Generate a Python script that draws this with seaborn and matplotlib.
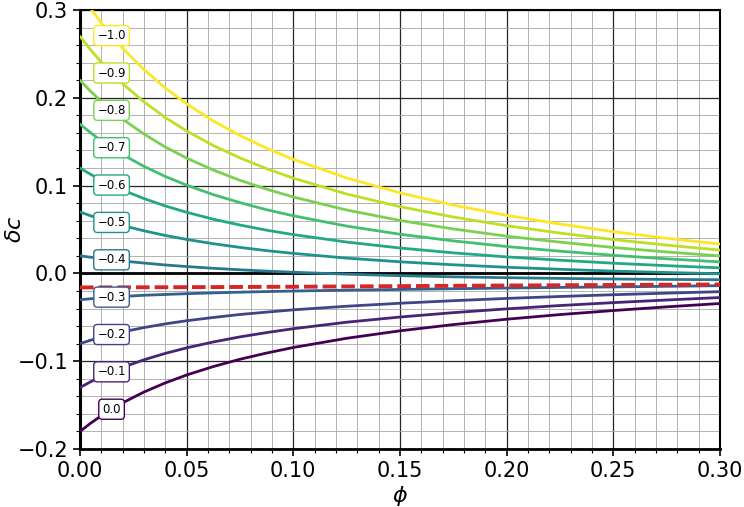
import numpy as np
import matplotlib
matplotlib.use("Agg")
import matplotlib.pyplot as plt
from matplotlib.ticker import MultipleLocator
import seaborn as sns

# values
phi = [0.0, 0.005, 0.01, 0.015, 0.02, 0.03, 0.04, 0.05, 0.0625, 0.075,
       0.0875, 0.1, 0.125, 0.15, 0.175, 0.2, 0.225, 0.25, 0.275, 0.3]

curve_labels = [0.0, -0.1, -0.2, -0.3, -0.4, -0.5, -0.6, -0.7, -0.8, -0.9, -1.0]

dc_00 = [-0.1800, -0.1706, -0.1621, -0.1544, -0.1474, -0.1351, -0.1247, -0.1157, -0.1061, -0.0978,
         -0.0907, -0.0844, -0.0739, -0.0654, -0.0583, -0.0522, -0.0469, -0.0423, -0.0381, -0.0343]
dc_01 = [-0.1300, -0.1234, -0.1174, -0.1119, -0.1070, -0.0984, -0.0911, -0.0848, -0.0781, -0.0723,
         -0.0674, -0.0630, -0.0556, -0.0497, -0.0447, -0.0404, -0.0366, -0.0333, -0.0303, -0.0275]
dc_02 = [-0.0800, -0.0761, -0.0726, -0.0695, -0.0666, -0.0617, -0.0575, -0.0539, -0.0502, -0.0468,
         -0.0441, -0.0415, -0.0374, -0.0340, -0.0311, -0.0285, -0.0263, -0.0243, -0.0225, -0.0208]
dc_03 = [-0.0300, -0.0289, -0.0279, -0.0270, -0.0263, -0.0249, -0.0240, -0.0231, -0.0222, -0.0214,
         -0.0207, -0.0201, -0.0191, -0.0183, -0.0175, -0.0167, -0.0160, -0.0154, -0.0147, -0.0140]
dc_04 = [0.0200, 0.0184, 0.0169, 0.0154, 0.0141, 0.0118, 0.0096, 0.0078, 0.0058, 0.0041,
         0.0026, 0.0013, -0.0009, -0.0026, -0.0039, -0.0049, -0.0057, -0.0064, -0.0069, -0.0072]
dc_05 = [0.0700, 0.0656, 0.0616, 0.0579, 0.0545, 0.0485, 0.0432, 0.0387, 0.0338, 0.0296,
         0.0259, 0.0228, 0.0174, 0.0132, 0.0098, 0.0070, 0.0047, 0.0026, 0.0010, -0.0004]
dc_06 = [0.1200, 0.1128, 0.1063, 0.1004, 0.0949, 0.0852, 0.0768, 0.0696, 0.0617, 0.0551,
         0.0492, 0.0442, 0.0357, 0.0289, 0.0234, 0.0188, 0.0150, 0.0116, 0.0088, 0.0063]
dc_07 = [0.1700, 0.1601, 0.1511, 0.1428, 0.1353, 0.1219, 0.1104, 0.1005, 0.0897, 0.0806,
         0.0725, 0.0656, 0.0539, 0.0446, 0.0370, 0.0306, 0.0253, 0.0206, 0.0166, 0.0131]
dc_08 = [0.2200, 0.2073, 0.1958, 0.1853, 0.1756, 0.1587, 0.1439, 0.1313, 0.1177, 0.1060,
         0.0959, 0.0870, 0.0722, 0.0603, 0.0506, 0.0424, 0.0356, 0.0295, 0.0244, 0.0199]
dc_09 = [0.2700, 0.2546, 0.2406, 0.2277, 0.2160, 0.1954, 0.1775, 0.1622, 0.1456, 0.1315,
         0.1192, 0.1085, 0.0904, 0.0760, 0.0642, 0.0543, 0.0459, 0.0385, 0.0322, 0.0266]
dc_10 = [0.3200, 0.3018, 0.2853, 0.2702, 0.2564, 0.2321, 0.2111, 0.1931, 0.1736, 0.1570,
         0.1425, 0.1299, 0.1087, 0.0917, 0.0778, 0.0661, 0.0562, 0.0475, 0.0400, 0.0334]

curves = [dc_00, dc_01, dc_02, dc_03, dc_04, dc_05, dc_06, dc_07, dc_08, dc_09, dc_10]

# red dashed reference line
ref_phi = [0.0, 0.05, 0.1, 0.15, 0.2, 0.25, 0.3]
ref_dc = [-0.0160, -0.0157, -0.0152, -0.0145, -0.0138, -0.0132, -0.0126]

label_phi = 0.0148

sns.set_style("white")
plt.rcParams['font.family'] = ['DejaVu Sans']
plt.rcParams['text.color'] = 'k'
plt.rcParams['axes.labelcolor'] = 'k'
plt.rcParams['xtick.color'] = 'k'
plt.rcParams['ytick.color'] = 'k'

fig, ax = plt.subplots(figsize=(7.44, 5.07), dpi=100)
fig.subplots_adjust(left=0.1075, right=0.9677, bottom=0.1144, top=0.9803)

cmap = plt.get_cmap("viridis")

ax.axhline(0, color="k", lw=2, zorder=2.5)

for lab, vals in zip(curve_labels, curves):
    col = cmap(-lab)
    sns.lineplot(x=phi, y=vals, color=col, lw=2, ax=ax, zorder=3)
    y_lab = np.interp(label_phi, phi, vals)
    txt = f"{lab:.1f}".replace("-", "\u2212")
    ax.text(label_phi, y_lab, txt, fontsize=8.5, ha="center", va="center", zorder=6,
            bbox=dict(boxstyle="round,pad=0.3", fc="white", ec=col, lw=1))

sns.lineplot(x=ref_phi, y=ref_dc, color="#d62728", lw=2.8, ax=ax, zorder=5)
ax.lines[-1].set_dashes((3.5, 1.3))

ax.set_xlim(0, 0.3)
ax.set_ylim(-0.2, 0.3)
ax.xaxis.set_major_locator(MultipleLocator(0.05))
ax.xaxis.set_minor_locator(MultipleLocator(0.01))
ax.yaxis.set_major_locator(MultipleLocator(0.1))
ax.yaxis.set_minor_locator(MultipleLocator(0.02))

ax.grid(which="major", color="0.15", lw=0.9)
ax.grid(which="minor", color="0.65", lw=0.6)
ax.set_axisbelow(True)

ax.tick_params(which="major", direction="out", length=5, width=1.2, labelsize=15,
               bottom=True, left=True)
ax.tick_params(which="minor", direction="out", length=3, width=0.8,
               bottom=True, left=True)

for s in ax.spines.values():
    s.set_color("k")
    s.set_linewidth(1.5)
ax.spines["left"].set_linewidth(2.2)
ax.spines["bottom"].set_linewidth(2.0)

ax.set_xlabel(r"$\phi$", fontsize=16, labelpad=2)
ax.set_ylabel(r"$\delta c$", fontsize=16)
ax.yaxis.set_label_coords(-0.086, 0.5)

plt.savefig("out.png", dpi=100)
